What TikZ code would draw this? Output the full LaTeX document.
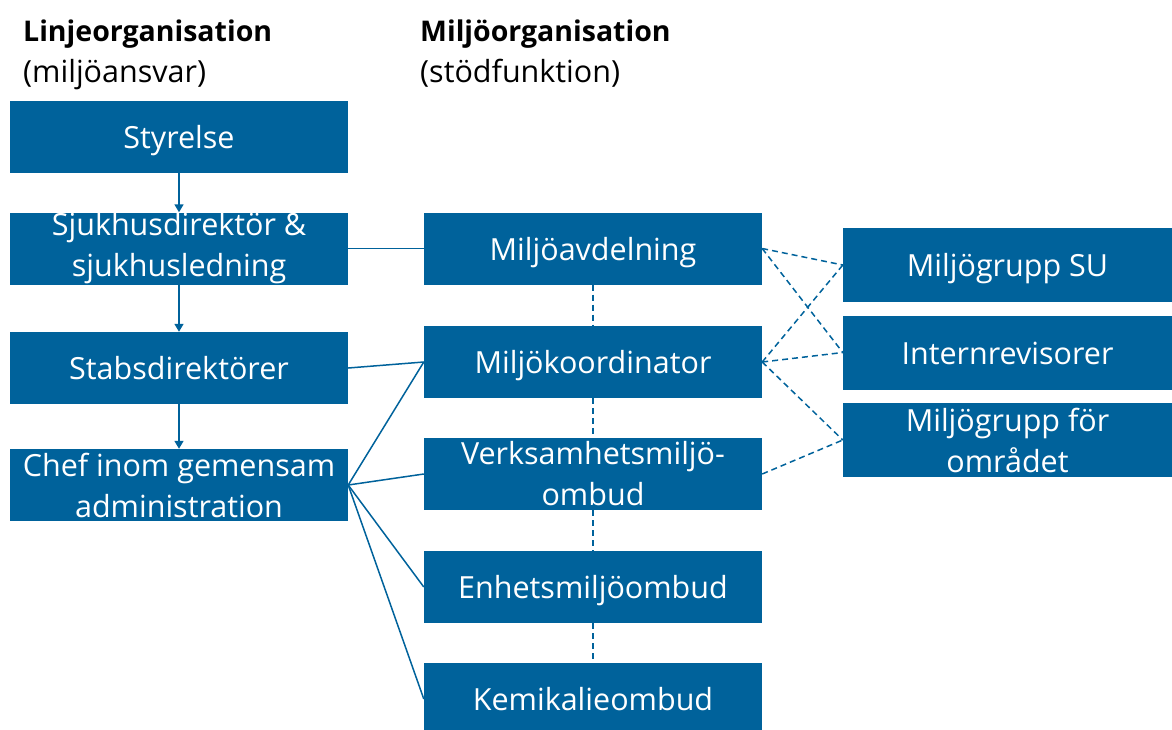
\documentclass[tikz,border=0pt]{standalone}
\usepackage{fontspec}
\setmainfont{Open Sans}
\usepackage{tikz}
\usetikzlibrary{arrows.meta,positioning}
\definecolor{OrgBlue}{HTML}{00629B}
\tikzset{
  OrgBox/.style={fill=OrgBlue,text=white,minimum width=338pt,minimum height=72pt,
    inner sep=0pt,align=center,font=\fontsize{30.5}{41}\selectfont},
  OneLine/.style={text height=24pt,text depth=1pt},
  SideBox/.style={OrgBox,minimum width=329pt,minimum height=74pt},
  OrgHead/.style={anchor=base west,inner sep=0pt,font=\fontsize{28.5}{40}\selectfont\bfseries},
  OrgSub/.style={anchor=base west,inner sep=0pt,font=\fontsize{30.5}{40}\selectfont},
  OrgLine/.style={draw=OrgBlue,line width=1.5pt},
  OrgDash/.style={OrgLine,dashed,dash pattern=on 6pt off 4pt},
  OrgArrow/.style={OrgLine,-{Triangle[width=9pt,length=8pt]}}
}
\begin{document}
\begin{tikzpicture}[x=1pt,y=-1pt]
    \useasboundingbox (0,0) rectangle (1172,729);
    % headings
    \node[OrgHead] (linjeHead) at (23,41) {Linjeorganisation};
    \node[OrgSub] (linjeSub) at (23,82) {(miljöansvar)};
    \node[OrgHead] (miljoHead) at (420,41) {Miljöorganisation};
    \node[OrgSub] (miljoSub) at (420,82) {(stödfunktion)};
    % line organisation
    \node[OrgBox,OneLine] (styrelse) at (179,137) {Styrelse};
    \node[OrgBox] (sjukhus) at (179,248.5) {Sjukhusdirektör \&\\sjukhusledning};
    \node[OrgBox,OneLine] (stabs) at (179,368) {Stabsdirektörer};
    \node[OrgBox] (chef) at (179,485) {Chef inom gemensam\\administration};
    % environmental organisation
    \node[OrgBox,OneLine] (avd) at (593,248.5) {Miljöavdelning};
    \node[OrgBox,OneLine] (koord) at (593,362) {Miljökoordinator};
    \node[OrgBox] (verks) at (593,474) {Verksamhetsmiljö-\\ombud};
    \node[OrgBox,OneLine] (enhet) at (593,587) {Enhetsmiljöombud};
    \node[OrgBox,OneLine] (kemi) at (593,699) {Kemikalieombud};
    % groups
    \node[SideBox,OneLine] (gruppSU) at (1007.5,265) {Miljögrupp SU};
    \node[SideBox,OneLine] (intern) at (1007.5,352.5) {Internrevisorer};
    \node[SideBox] (gruppOmr) at (1007.5,440) {Miljögrupp för\\området};
    % arrows down the line
    \foreach \from/\to in {styrelse/sjukhus,sjukhus/stabs,stabs/chef}
      \draw[OrgArrow] (\from) -- (\to);
    % solid links
    \draw[OrgLine] (sjukhus.east) -- (avd.west);
    \draw[OrgLine] (stabs.east) -- (koord.west);
    \foreach \to in {koord,verks,enhet,kemi}
      \draw[OrgLine] (chef.east) -- (\to.west);
    % dashed links
    \foreach \from/\to in {avd/koord,koord/verks,verks/enhet,enhet/kemi}
      \draw[OrgDash] (\from) -- (\to);
    \foreach \from/\to in {avd/gruppSU,avd/intern,koord/gruppSU,koord/intern,koord/gruppOmr,verks/gruppOmr}
      \draw[OrgDash] (\from.east) -- (\to.west);
\end{tikzpicture}
\end{document}
